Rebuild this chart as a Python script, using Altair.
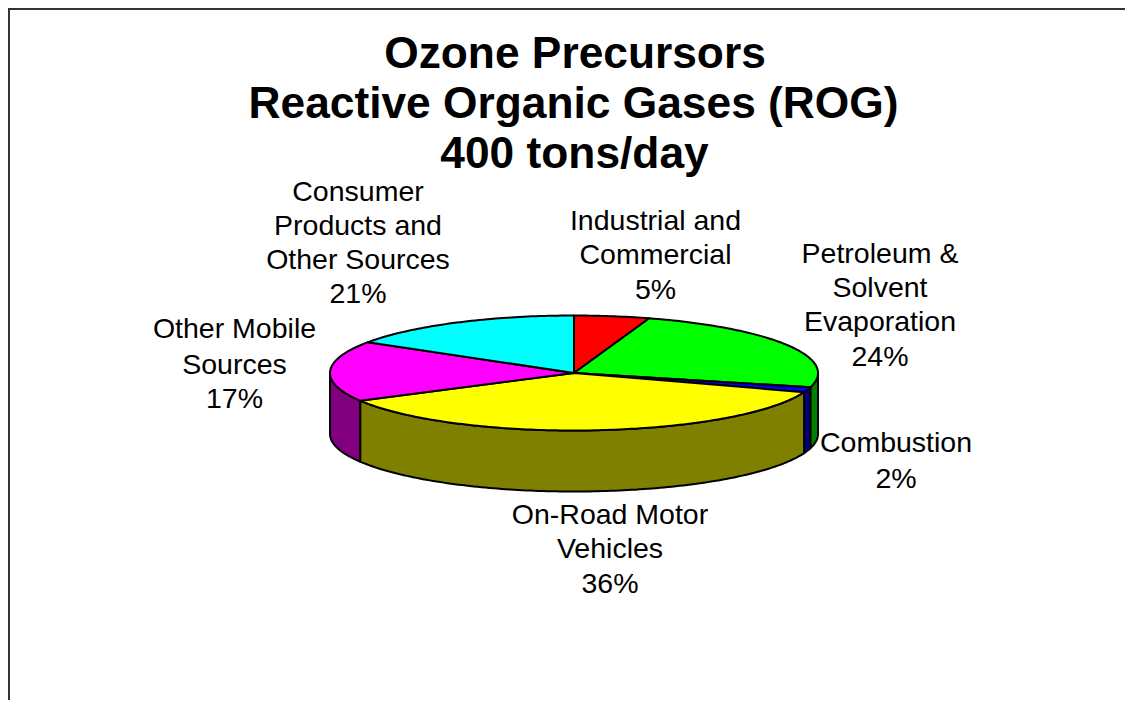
import math
import altair as alt

# Slice shares as drawn in the picture, clockwise from 12 o'clock
names = ["Industrial and Commercial", "Petroleum & Solvent Evaporation", "Combustion",
         "On-Road Motor Vehicles", "Other Mobile Sources", "Consumer Products and Other Sources"]
shares = [5.0, 24.0, 1.4, 36.6, 17.0, 16.0]
top_colors = ["#ff0000", "#00ff00", "#0000ff", "#ffff00", "#ff00ff", "#00ffff"]
side_colors = ["#800000", "#008000", "#000080", "#808000", "#800080", "#008080"]

title_lines = ["Ozone Precursors", "Reactive Organic Gases (ROG)", "400 tons/day"]
title_x = [575, 573.5, 574.5]
title_y = [68, 118, 168]

label_text = ["Consumer", "Products and", "Other Sources", "21%",
              "Industrial and", "Commercial", "5%",
              "Petroleum &", "Solvent", "Evaporation", "24%",
              "Other Mobile", "Sources", "17%",
              "Combustion", "2%",
              "On-Road Motor", "Vehicles", "36%"]
label_x = [358, 358, 358, 358, 655.5, 655.5, 655.5, 880, 880, 880, 880, 234.5, 234.5, 234.5, 896, 896, 610, 610, 610]
label_y = [201, 235, 269, 303, 230, 264, 299, 263, 297, 331, 366, 338, 374, 408, 452, 488, 524, 558, 593]

# Pie geometry in page pixels
CX, CY, RX, RY, DEPTH = 574.0, 373.0, 244.0, 57.5, 61.0
OFFSET = -8  # page margin
W, H = 1117, 692


def pt(deg, drop=0.0):
    a = math.radians(deg)
    return [CX + RX * math.sin(a), CY - RY * math.cos(a) + drop]


def arc(a0, a1, drop=0.0):
    n = max(2, int(abs(a1 - a0)) + 2)
    return [pt(a0 + (a1 - a0) * i / (n - 1), drop) for i in range(n)]


def feature(ring, color, part):
    return {"type": "Feature",
            "geometry": {"type": "Polygon", "coordinates": [ring + [ring[0]]]},
            "properties": {"color": color, "part": part}}


sides, tops = [], []
start = 0.0
total = sum(shares)
for share, tc, sc in zip(shares, top_colors, side_colors):
    end = start + share / total * 360
    tops.append(feature([[CX, CY]] + arc(start, end), tc, "top"))
    a0, a1 = max(start, 90.0), min(end, 270.0)
    if a1 > a0:
        sides.append(feature(arc(a0, a1) + arc(a1, a0, DEPTH), sc, "side"))
    start = end

pie = alt.Chart(alt.Data(values=sides + tops)).mark_geoshape(
    stroke="#000000", strokeWidth=2, strokeJoin="round"
).encode(fill=alt.Fill("properties.color:N", scale=None)).project(
    type="identity", scale=1, translate=[OFFSET, OFFSET])

title_rows = [{"t": t, "x": x + OFFSET, "y": y + OFFSET} for t, x, y in zip(title_lines, title_x, title_y)]
titles = alt.Chart(alt.Data(values=title_rows)).mark_text(
    font="Liberation Sans", fontWeight="bold", fontSize=44.3, align="center", baseline="alphabetic", color="#000000"
).encode(x=alt.X("x:Q", scale=None), y=alt.Y("y:Q", scale=None), text="t:N")

label_rows = [{"t": t, "x": x + OFFSET, "y": y + OFFSET} for t, x, y in zip(label_text, label_x, label_y)]
labels = alt.Chart(alt.Data(values=label_rows)).mark_text(
    font="Liberation Sans", fontSize=28.5, align="center", baseline="alphabetic", color="#000000"
).encode(x=alt.X("x:Q", scale=None), y=alt.Y("y:Q", scale=None), text="t:N")

left = alt.Chart(alt.Data(values=[{"x": 0.5, "y": 0, "y2": H}])).mark_rule(
    color="#333333", strokeWidth=3).encode(
    x=alt.X("x:Q", scale=None), y=alt.Y("y:Q", scale=None), y2="y2:Q")

frame_top = alt.Chart(alt.Data(values=[{"x": 0, "x2": W, "y": 0.5}])).mark_rule(
    color="#333333", strokeWidth=3).encode(
    x=alt.X("x:Q", scale=None), x2="x2:Q", y=alt.Y("y:Q", scale=None))

chart = alt.layer(pie, left, frame_top, titles, labels).properties(
    width=W, height=H, padding=0, background="#ffffff",
    autosize=alt.AutoSizeParams(type="none")
).configure_view(stroke=None)

chart.save("out.html", embed_options={"renderer": "svg", "actions": False})
